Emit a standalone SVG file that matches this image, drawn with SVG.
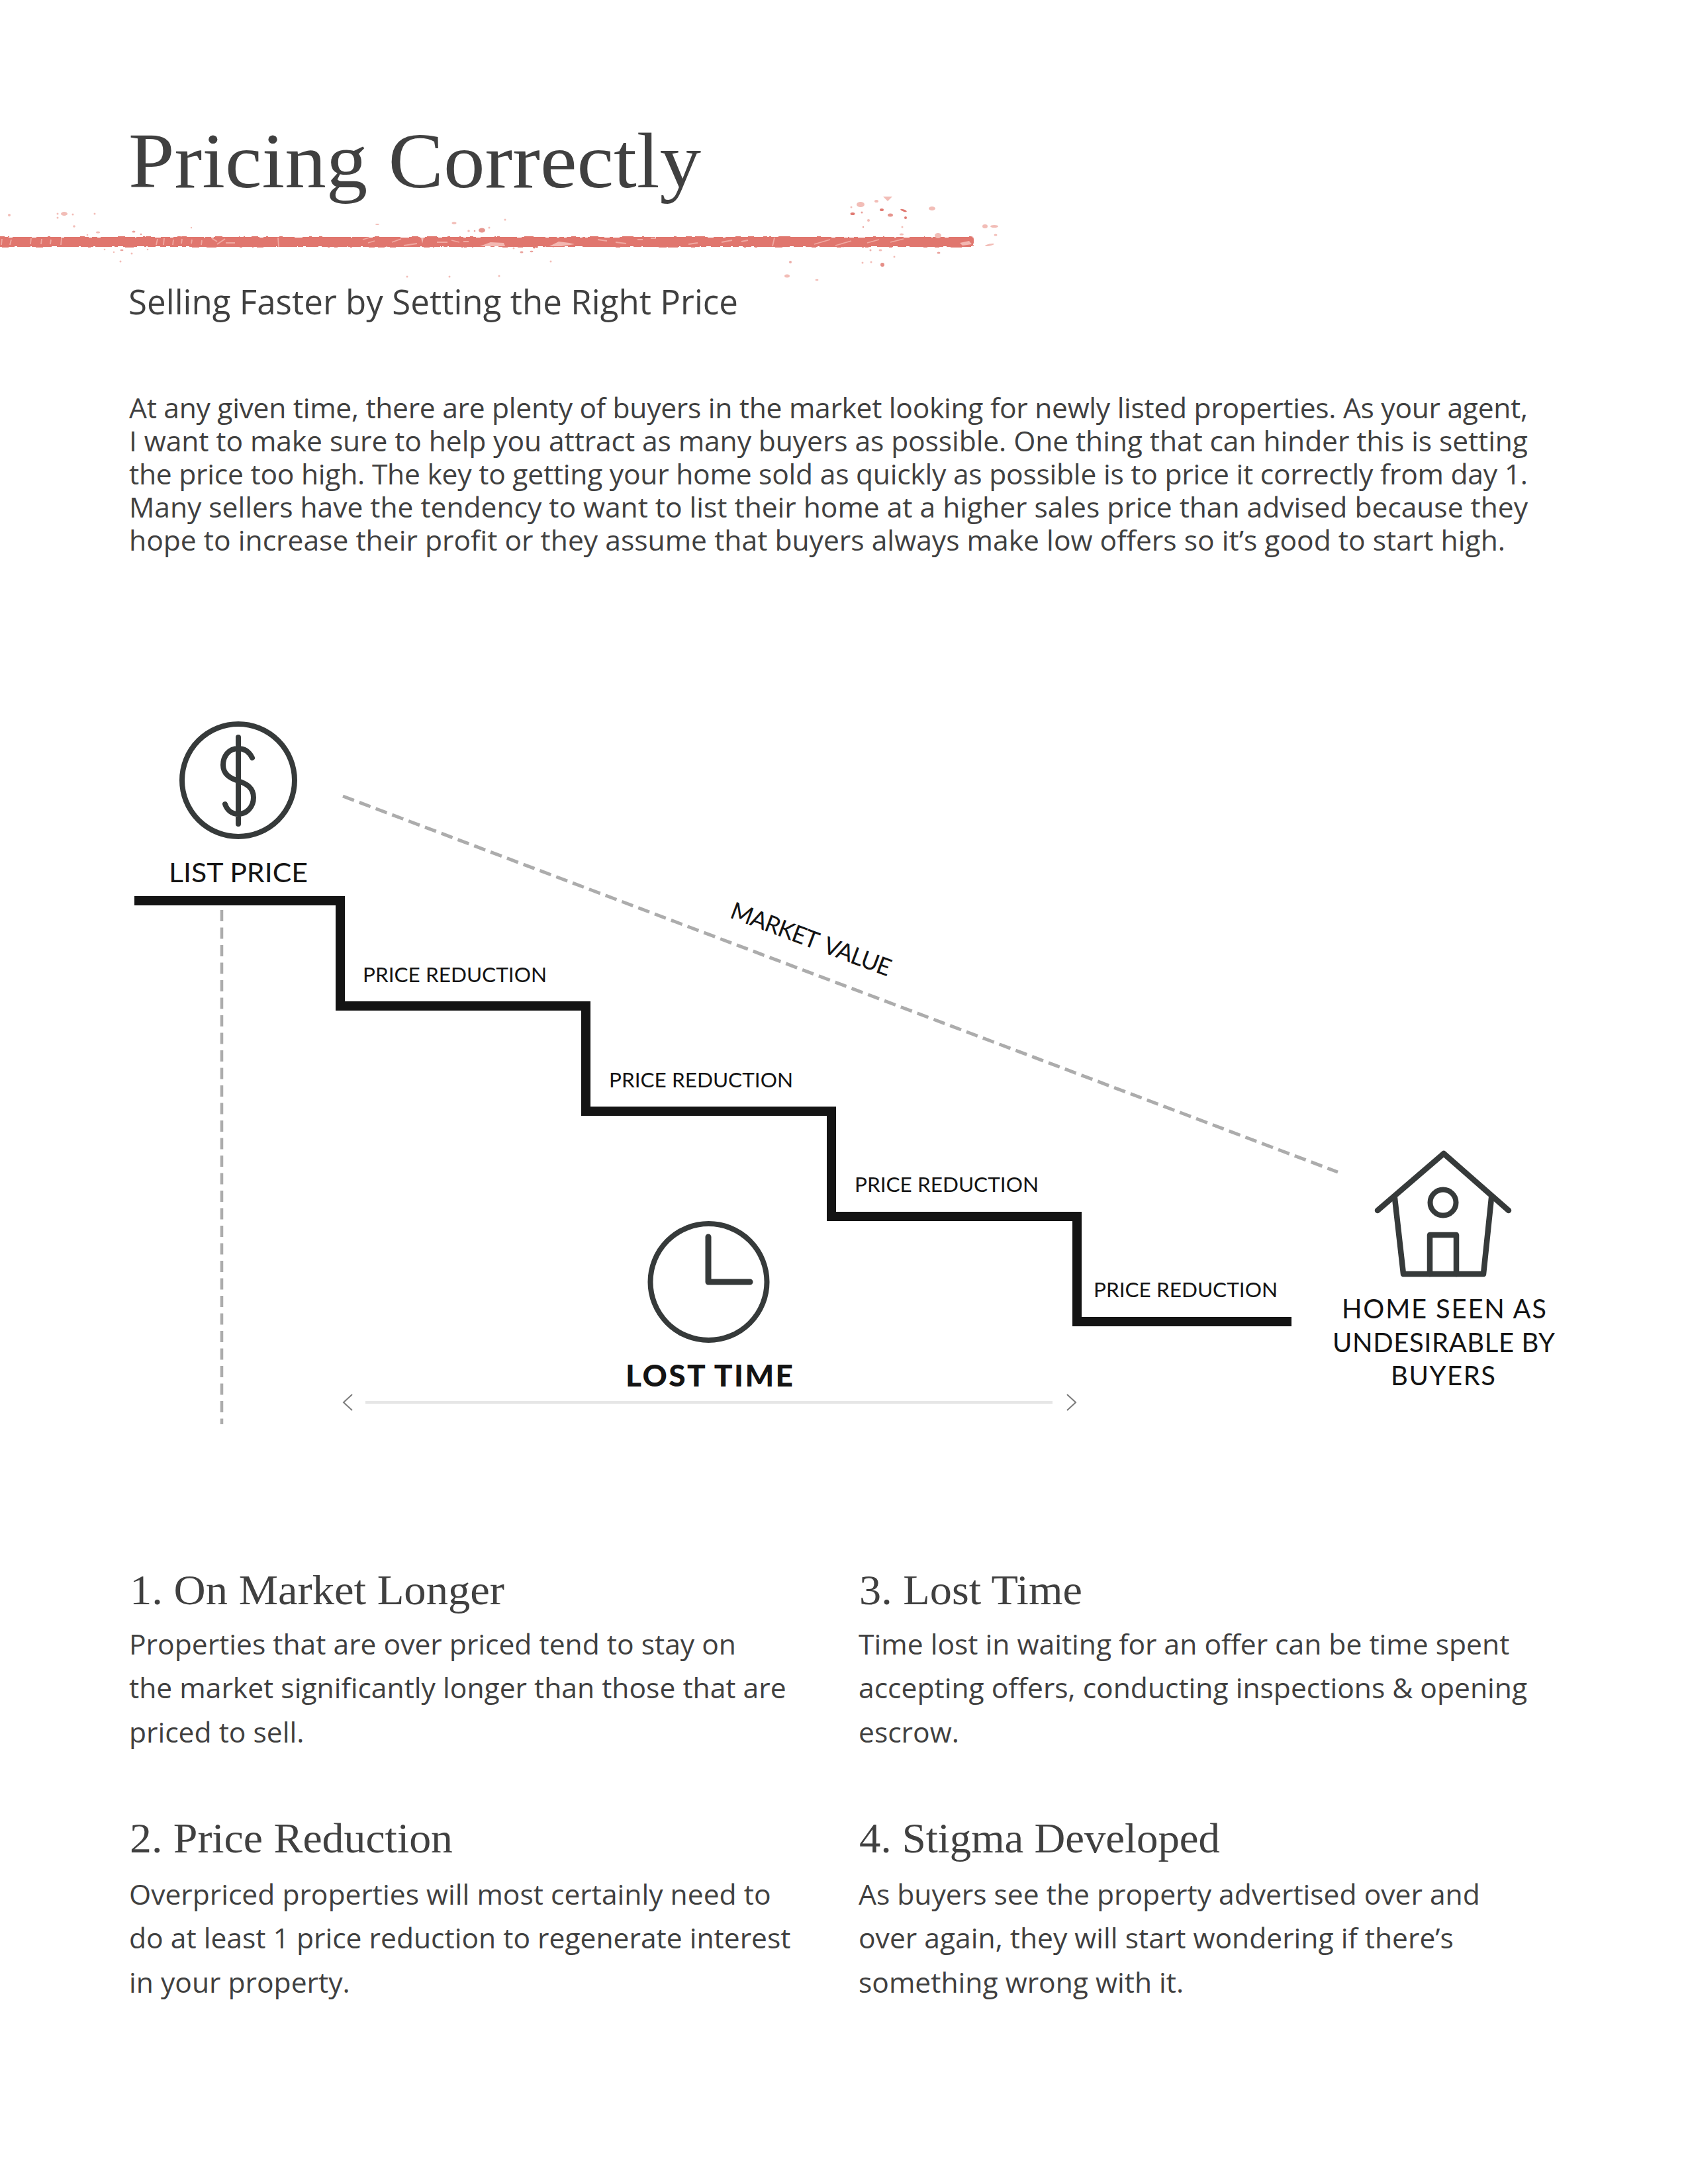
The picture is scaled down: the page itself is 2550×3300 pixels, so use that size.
<svg xmlns="http://www.w3.org/2000/svg" width="2550" height="3300" viewBox="0 0 2550 3300">
<style>
.serif{font-family:"Liberation Serif",serif;fill:#404040}
.body{font-family:"Open Sans",sans-serif;fill:#404040}
.lab{font-family:Lato,sans-serif;fill:#141414}
.icon{fill:none;stroke:#363a3a;stroke-linecap:round;stroke-linejoin:round}
.stair{fill:none;stroke:#141414;stroke-width:14;stroke-linejoin:miter}
.dash{fill:none;stroke:#acacac}
.sp{fill:#e07a72}
.sl{fill:#f2bdb7}
.scr{fill:none;stroke:#f0aaa3;stroke-width:1.800}
</style>
<defs>
<filter id="rough" x="-1%" y="-100%" width="102%" height="300%">
<feTurbulence type="fractalNoise" baseFrequency="0.09 0.25" numOctaves="2" seed="4"/>
<feDisplacementMap in="SourceGraphic" scale="4" xChannelSelector="R" yChannelSelector="G"/>
</filter>
</defs>
<rect width="2550" height="3300" fill="#fff"/>
<g id="brush">
<rect x="-6" y="358" width="1477" height="15" rx="4" fill="#e0766e" filter="url(#rough)"/>
<path class="scr" d="M3 361l-1 9M17 362l-2 8M47 360l-1 9M63 361l-1 8M77 362l-1 7M93 360l-1 10M238 361l-2 9M248 360l-1 10M262 362l-1 8M275 361l-1 7M290 362l-1 6M305 363l-1 7M320 360l8 5M340 361l-12 8M355 367h-14M420 359l1 14M548 362l10-3M556 367l10-3M592 366l14-5M610 371l20-3M660 366h16M682 363l12 3M700 365h8M903 362l14 2M930 366l16 2M963 362h8M983 360h8M1040 369l14-2M1090 366l16-3M1120 365l10-2M1170 359l-3 13M1230 369l24-7M1262 371l24-7M1310 367l18-5M1345 366l20-5"/>
<path d="M636 359h4l-2 9zM725 372l16-6 20 1 2 5zM830 372l14-7 16 2 8 2-20 3zM1450 367l14-3 4 5-14 2z" fill="#f3b8b2"/>
<g>
<circle class="sl" cx="14" cy="325" r="2"/><ellipse class="sl" cx="97" cy="323" rx="5" ry="3"/><circle class="sl" cx="87" cy="323" r="1.500"/><circle class="sl" cx="87" cy="329" r="1.500"/><circle class="sl" cx="110" cy="324" r="1.500"/><circle class="sl" cx="143" cy="323" r="1.500"/><circle class="sl" cx="112" cy="342" r="1.800"/><ellipse class="sl" cx="148" cy="351" rx="3" ry="1.500"/><ellipse class="sp" cx="202" cy="350" rx="2.500" ry="1.500" opacity=".7"/><circle class="sp" cx="213" cy="354" r="1.300" opacity=".7"/><circle class="sl" cx="132" cy="355" r="1.300"/><circle class="sl" cx="158" cy="377" r="1.300"/><ellipse class="sp" cx="184" cy="378" rx="2.500" ry="1.300" opacity=".7"/><circle class="sl" cx="172" cy="381" r="1.200"/><circle class="sl" cx="199" cy="383" r="1.500"/><circle class="sl" cx="182" cy="395" r="1.500"/><circle class="sl" cx="223" cy="377" r="1.300"/><circle class="sl" cx="289" cy="344" r="1.200"/>
<ellipse class="sl" cx="686" cy="337" rx="3.500" ry="1.800"/><ellipse class="sp" cx="728" cy="348" rx="5" ry="3.500" opacity=".8"/><circle class="sl" cx="739" cy="344" r="1.500"/><circle class="sp" cx="717" cy="349" r="1.300" opacity=".7"/><circle class="sl" cx="708" cy="349" r="1.800"/><circle class="sl" cx="763" cy="332" r="1.500"/><ellipse class="sl" cx="570" cy="339" rx="3" ry="1"/><circle class="sp" cx="807" cy="373.500" r="2"/><circle class="sp" cx="811" cy="373" r="1.800"/><circle class="sl" cx="776" cy="375" r="1.500"/><ellipse class="sp" cx="788" cy="381" rx="2.500" ry="1.500" opacity=".7"/><ellipse class="sp" cx="803" cy="380" rx="2.500" ry="1.300" opacity=".7"/><circle class="sl" cx="832" cy="395" r="1.500"/>
<ellipse class="sl" cx="1300" cy="309" rx="6" ry="4"/><ellipse class="sl" cx="1324" cy="304" rx="3" ry="2"/><path class="sl" d="M1334 297h14l-7 7z"/><ellipse class="sp" cx="1288" cy="323" rx="3.500" ry="2"/><ellipse class="sp" cx="1332" cy="317" rx="3" ry="2"/><ellipse class="sp" cx="1345" cy="325" rx="4" ry="2.500" opacity=".8"/><ellipse class="sp" cx="1365" cy="318" rx="5" ry="1.500" transform="rotate(20 1365 318)"/><circle class="sp" cx="1368" cy="329" r="2"/><ellipse class="sl" cx="1408" cy="315" rx="5" ry="3"/><circle class="sp" cx="1302" cy="321" r="1.500" opacity=".7"/><circle class="sl" cx="1286" cy="313" r="1.500"/><circle class="sl" cx="1312" cy="333" r="2"/><circle class="sp" cx="1304" cy="343" r="1.200" opacity=".7"/><circle class="sl" cx="1363" cy="343" r="1.500"/><ellipse class="sl" cx="1362" cy="354" rx="3" ry="1.500"/><ellipse class="sl" cx="1417" cy="356" rx="5" ry="4"/><ellipse class="sl" cx="1488" cy="342" rx="4" ry="3"/><ellipse class="sl" cx="1502" cy="342" rx="6" ry="2"/><ellipse class="sl" cx="1504" cy="355" rx="2.500" ry="1.500"/><ellipse class="sl" cx="1495" cy="370" rx="7" ry="1.500" transform="rotate(-12 1495 370)"/><ellipse class="sp" cx="1418" cy="382" rx="2.500" ry="1.500" opacity=".7"/><circle class="sp" cx="1315" cy="378" r="1.500" opacity=".6"/><ellipse class="sl" cx="1330" cy="378" rx="2.500" ry="1.500"/><circle class="sl" cx="1351" cy="388" r="1.500"/><circle class="sp" cx="1333" cy="400" r="3" opacity=".85"/><circle class="sp" cx="1194" cy="396" r="2" opacity=".6"/><ellipse class="sl" cx="1189" cy="417" rx="4" ry="2.500"/><ellipse class="sl" cx="1234" cy="423" rx="2.500" ry="1.200"/><circle class="sl" cx="1316" cy="396" r="1.500"/><circle class="sl" cx="1303" cy="397" r="1.500"/>
<circle class="sl" cx="615" cy="418" r="1.500"/><circle class="sl" cx="679" cy="418" r="1.500"/><circle class="sl" cx="754" cy="417" r="1.500"/>
</g>
</g>
<g id="header">
<text class="serif" x="194" y="283" font-size="118" textLength="865" lengthAdjust="spacingAndGlyphs">Pricing Correctly</text>
<text class="body" x="194" y="475" font-size="51" textLength="921" lengthAdjust="spacing">Selling Faster by Setting the Right Price</text>
</g>
<g id="intro">
<text class="body" font-size="42.600" x="195" y="632" textLength="2113" lengthAdjust="spacing">At any given time, there are plenty of buyers in the market looking for newly listed properties. As your agent,</text>
<text class="body" font-size="42.600" x="195" y="682" textLength="2113" lengthAdjust="spacing">I want to make sure to help you attract as many buyers as possible. One thing that can hinder this is setting</text>
<text class="body" font-size="42.600" x="195" y="732" textLength="2113" lengthAdjust="spacing">the price too high. The key to getting your home sold as quickly as possible is to price it correctly from day 1.</text>
<text class="body" font-size="42.600" x="195" y="782" textLength="2113" lengthAdjust="spacing">Many sellers have the tendency to want to list their home at a higher sales price than advised because they</text>
<text class="body" font-size="42.600" x="195" y="832" textLength="2079" lengthAdjust="spacing">hope to increase their profit or they assume that buyers always make low offers so it’s good to start high.</text>
</g>
<g id="connectors">
<path class="stair" d="M203 1361H514V1520H885V1679H1256V1838H1627V1997H1951"/>
<path class="dash" stroke-width="5" stroke-dasharray="18 8.500" d="M518 1203L2021 1771"/>
<path class="dash" stroke-width="4.500" stroke-dasharray="17 9.500" d="M335 1375V2152"/>
<path fill="none" stroke="#e6e6e6" stroke-width="4" d="M552 2119H1590"/>
<path fill="none" stroke="#7a7a7a" stroke-width="2" d="M532 2107L519 2119L532 2131M1612 2107L1625 2119L1612 2131"/>
</g>
<g id="list-price">
<circle class="icon" cx="360" cy="1179" r="85" stroke-width="8"/>
<path class="icon" stroke-width="8" d="M360 1114V1245M381 1145C376 1135 368 1131 360 1131C345 1131 337 1143 337 1156C337 1170 348 1176 360 1180C372 1184 383 1190 383 1205C383 1220 372 1230 360 1230C350 1230 343 1224 340 1215"/>
<text class="lab" x="255" y="1333" font-size="40" textLength="210" lengthAdjust="spacingAndGlyphs">LIST PRICE</text>
</g>
<g id="price-reduction-labels">
<text class="lab" x="548" y="1484" font-size="31" textLength="278" lengthAdjust="spacingAndGlyphs">PRICE REDUCTION</text>
<text class="lab" x="920" y="1643" font-size="31" textLength="278" lengthAdjust="spacingAndGlyphs">PRICE REDUCTION</text>
<text class="lab" x="1291" y="1801" font-size="31" textLength="278" lengthAdjust="spacingAndGlyphs">PRICE REDUCTION</text>
<text class="lab" x="1652" y="1960" font-size="31" textLength="278" lengthAdjust="spacingAndGlyphs">PRICE REDUCTION</text>
</g>
<g id="market-value">
<text class="lab" transform="translate(1101 1386) rotate(20.500)" font-size="36" word-spacing="6" textLength="256" lengthAdjust="spacing">MARKET VALUE</text>
</g>
<g id="lost-time">
<circle class="icon" cx="1070.500" cy="1937" r="88" stroke-width="8"/>
<path class="icon" stroke-width="9" d="M1070 1869V1937H1133"/>
<text class="lab" x="945" y="2095" font-size="46" font-weight="900" textLength="253" lengthAdjust="spacing">LOST TIME</text>
</g>
<g id="home">
<path class="icon" stroke-width="8.500" stroke-linecap="butt" d="M2081 1829L2181 1743L2279 1829"/>
<path class="icon" stroke-width="8.500" d="M2107 1810L2120 1925H2241L2253 1810"/>
<circle class="icon" cx="2180" cy="1817" r="19.500" stroke-width="8"/>
<path class="icon" stroke-width="8.500" d="M2160 1925V1866H2200V1925"/>
<text class="lab" x="2027" y="1992" font-size="40" textLength="309" lengthAdjust="spacing">HOME SEEN AS</text>
<text class="lab" x="2013" y="2043" font-size="40" textLength="336" lengthAdjust="spacing">UNDESIRABLE BY</text>
<text class="lab" x="2101" y="2093" font-size="40" textLength="158" lengthAdjust="spacing">BUYERS</text>
</g>
<g id="point-1">
<text class="serif" x="196" y="2424" font-size="64" textLength="566" lengthAdjust="spacingAndGlyphs">1. On Market Longer</text>
<text class="body" x="195" y="2500" font-size="42.600">Properties that are over priced tend to stay on</text>
<text class="body" x="195" y="2566" font-size="42.600">the market significantly longer than those that are</text>
<text class="body" x="195" y="2633" font-size="42.600">priced to sell.</text>
</g>
<g id="point-2">
<text class="serif" x="196" y="2799" font-size="64" textLength="488" lengthAdjust="spacingAndGlyphs">2. Price Reduction</text>
<text class="body" x="195" y="2878" font-size="42.600">Overpriced properties will most certainly need to</text>
<text class="body" x="195" y="2944" font-size="42.600">do at least 1 price reduction to regenerate interest</text>
<text class="body" x="195" y="3011" font-size="42.600">in your property.</text>
</g>
<g id="point-3">
<text class="serif" x="1298" y="2424" font-size="64" textLength="337" lengthAdjust="spacingAndGlyphs">3. Lost Time</text>
<text class="body" x="1297" y="2500" font-size="42.600">Time lost in waiting for an offer can be time spent</text>
<text class="body" x="1297" y="2566" font-size="42.600">accepting offers, conducting inspections &amp; opening</text>
<text class="body" x="1297" y="2633" font-size="42.600">escrow.</text>
</g>
<g id="point-4">
<text class="serif" x="1298" y="2799" font-size="64" textLength="545" lengthAdjust="spacingAndGlyphs">4. Stigma Developed</text>
<text class="body" x="1297" y="2878" font-size="42.600">As buyers see the property advertised over and</text>
<text class="body" x="1297" y="2944" font-size="42.600">over again, they will start wondering if there’s</text>
<text class="body" x="1297" y="3011" font-size="42.600">something wrong with it.</text>
</g>
</svg>
